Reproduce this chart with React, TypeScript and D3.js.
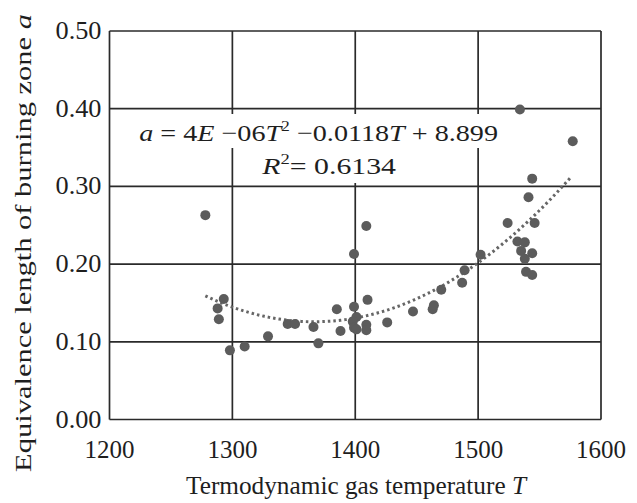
import React, { useEffect, useRef } from 'react';
import * as d3 from 'd3';

// measured points: gas temperature T and burning zone length a
const temps = [
  1278, 1293, 1288, 1289, 1298, 1310, 1329, 1345, 1351, 1366, 1370, 1385, 1388,
  1399, 1399, 1401, 1398, 1399, 1401, 1409, 1409, 1410, 1409, 1426, 1447, 1463,
  1464, 1470, 1487, 1489, 1502, 1524, 1534, 1577, 1544, 1541, 1546, 1532, 1538,
  1535, 1544, 1538, 1539, 1544,
];
const lengths = [
  0.263, 0.155, 0.143, 0.129, 0.089, 0.094, 0.107, 0.123, 0.123, 0.119, 0.098, 0.142, 0.114,
  0.213, 0.145, 0.132, 0.126, 0.118, 0.116, 0.122, 0.115, 0.154, 0.249, 0.125, 0.139, 0.142,
  0.147, 0.167, 0.176, 0.192, 0.212, 0.253, 0.399, 0.358, 0.31, 0.286, 0.253, 0.229, 0.228,
  0.217, 0.214, 0.207, 0.19, 0.186,
];
const xTicks = [1200, 1300, 1400, 1500, 1600];
const yTicks = [0, 0.1, 0.2, 0.3, 0.4, 0.5];

// least squares fit of a + bT + cT^2 (the excel style trendline)
function quadFit(xs: number[], ys: number[]) {
  const m = d3.mean(xs) as number;
  const u = xs.map(x => (x - m) / 100);
  const s = [0, 0, 0, 0, 0];
  const t = [0, 0, 0];
  u.forEach((x, i) => {
    for (let k = 0; k < 5; k++) s[k] += Math.pow(x, k);
    for (let k = 0; k < 3; k++) t[k] += ys[i] * Math.pow(x, k);
  });
  const A = [
    [s[0], s[1], s[2], t[0]],
    [s[1], s[2], s[3], t[1]],
    [s[2], s[3], s[4], t[2]],
  ];
  for (let i = 0; i < 3; i++) {
    for (let j = i + 1; j < 3; j++) {
      const f = A[j][i] / A[i][i];
      for (let k = i; k < 4; k++) A[j][k] -= f * A[i][k];
    }
  }
  const c = [0, 0, 0];
  for (let i = 2; i >= 0; i--) {
    let v = A[i][3];
    for (let k = i + 1; k < 3; k++) v -= A[i][k] * c[k];
    c[i] = v / A[i][i];
  }
  return (x: number) => {
    const z = (x - m) / 100;
    return c[0] + c[1] * z + c[2] * z * z;
  };
}

const App = () => {
  const svgRef = useRef<SVGSVGElement>(null);

  useEffect(() => {
    const width = 637;
    const height = 503;
    const left = 109.5;
    const right = 601;
    const top = 31;
    const bottom = 419.5;
    const font = '"Liberation Serif", "Times New Roman", serif';
    const ink = '#1e1e1e';

    const svg = d3.select(svgRef.current);
    svg.selectAll('*').remove();
    svg.attr('width', width).attr('height', height);

    svg.append('rect').attr('width', width).attr('height', height).attr('fill', '#fff');

    const x = d3.scaleLinear().domain([1200, 1600]).range([left, right]);
    const y = d3.scaleLinear().domain([0, 0.5]).range([bottom, top]);

    // scale a text group sideways so it spans the width seen in the figure
    const fitText = (g: any, anchorX: number, baseY: number, target: number, anchor: string) => {
      const node = g.select('text').node() as SVGTextElement;
      const w = node.getBBox().width || target;
      g.attr('transform', `translate(${anchorX},${baseY}) scale(${target / w},1)`);
      g.select('text').attr('text-anchor', anchor);
    };

    // grid
    const grid = svg.append('g').attr('stroke', '#2a2a2a').attr('stroke-width', 1.7);
    xTicks.forEach(t => {
      grid.append('line')
        .attr('x1', x(t)).attr('x2', x(t))
        .attr('y1', top).attr('y2', bottom);
    });
    yTicks.forEach(t => {
      grid.append('line')
        .attr('x1', left).attr('x2', right)
        .attr('y1', y(t)).attr('y2', y(t));
    });

    // y tick labels
    yTicks.forEach(t => {
      const g = svg.append('g');
      g.append('text')
        .style('font-family', font)
        .style('font-size', '25px')
        .style('fill', ink)
        .text(t.toFixed(2));
      fitText(g, left - 8, y(t) + 8, 46, 'end');
    });

    // x tick labels
    svg.append('g').selectAll('text').data(xTicks).join('text')
      .attr('x', d => x(d))
      .attr('y', bottom + 38)
      .attr('text-anchor', 'middle')
      .style('font-family', font)
      .style('font-size', '25px')
      .style('fill', ink)
      .text(d => d);

    // equation label, with white boxes behind
    svg.append('rect').attr('x', 136).attr('y', 114).attr('width', 364).attr('height', 34).attr('fill', '#fff');
    svg.append('rect').attr('x', 255).attr('y', 147).attr('width', 146).attr('height', 36).attr('fill', '#fff');

    const eqG = svg.append('g');
    const eq = eqG.append('text')
      .style('font-family', font)
      .style('font-size', '24px')
      .style('fill', ink);
    eq.append('tspan').style('font-style', 'italic').text('a');
    eq.append('tspan').text(' = 4');
    eq.append('tspan').style('font-style', 'italic').text('E');
    eq.append('tspan').text(' \u221206');
    eq.append('tspan').style('font-style', 'italic').text('T');
    eq.append('tspan').attr('dy', -10).style('font-size', '15px').text('2');
    eq.append('tspan').attr('dy', 10).text(' \u22120.0118');
    eq.append('tspan').style('font-style', 'italic').text('T');
    eq.append('tspan').text(' + 8.899');
    fitText(eqG, 498, 141, 359, 'end');

    const r2G = svg.append('g');
    const r2 = r2G.append('text')
      .style('font-family', font)
      .style('font-size', '24px')
      .style('fill', ink);
    r2.append('tspan').style('font-style', 'italic').text('R');
    r2.append('tspan').attr('dy', -10).style('font-size', '15px').text('2');
    r2.append('tspan').attr('dy', 10).text('= 0.6134');
    fitText(r2G, 396, 174, 135, 'end');

    // trendline
    const fit = quadFit(temps, lengths);
    const tMin = d3.min(temps) as number;
    const tMax = d3.max(temps) as number;
    const trend = d3.range(tMin, tMax + 0.1, 2).map(t => [t, fit(t)] as [number, number]);
    svg.append('path')
      .datum(trend)
      .attr('fill', 'none')
      .attr('stroke', '#666')
      .attr('stroke-width', 3)
      .attr('stroke-dasharray', '2.5,3')
      .attr('d', d3.line<[number, number]>().x(d => x(d[0])).y(d => y(d[1])));

    // points
    svg.append('g').selectAll('circle').data(temps).join('circle')
      .attr('cx', d => x(d))
      .attr('cy', (d, i) => y(lengths[i]))
      .attr('r', 5)
      .attr('fill', '#5c5c5c');

    // axis titles
    svg.append('text')
      .attr('x', 356)
      .attr('y', 494)
      .attr('text-anchor', 'middle')
      .attr('textLength', 340)
      .attr('lengthAdjust', 'spacingAndGlyphs')
      .style('font-family', font)
      .style('font-size', '25px')
      .style('fill', ink)
      .call(t => {
        t.append('tspan').text('Termodynamic gas temperature ');
        t.append('tspan').style('font-style', 'italic').text('T');
      });

    const yt = svg.append('g');
    yt.append('text')
      .style('font-family', font)
      .style('font-size', '24px')
      .style('fill', ink)
      .call(t => {
        t.append('tspan').text('Equivalence length of burning zone ');
        t.append('tspan').style('font-style', 'italic').text('a');
      });
    const yw = (yt.select('text').node() as SVGTextElement).getBBox().width;
    yt.attr('transform', `translate(31, 243) rotate(-90) scale(${458 / yw},1)`);
    yt.select('text').attr('text-anchor', 'middle');
  }, []);

  return (
    <div style={{ position: 'absolute', left: 0, top: 0, width: 637, height: 503 }}>
      <svg ref={svgRef} style={{ display: 'block' }}></svg>
    </div>
  );
};

export default App;
